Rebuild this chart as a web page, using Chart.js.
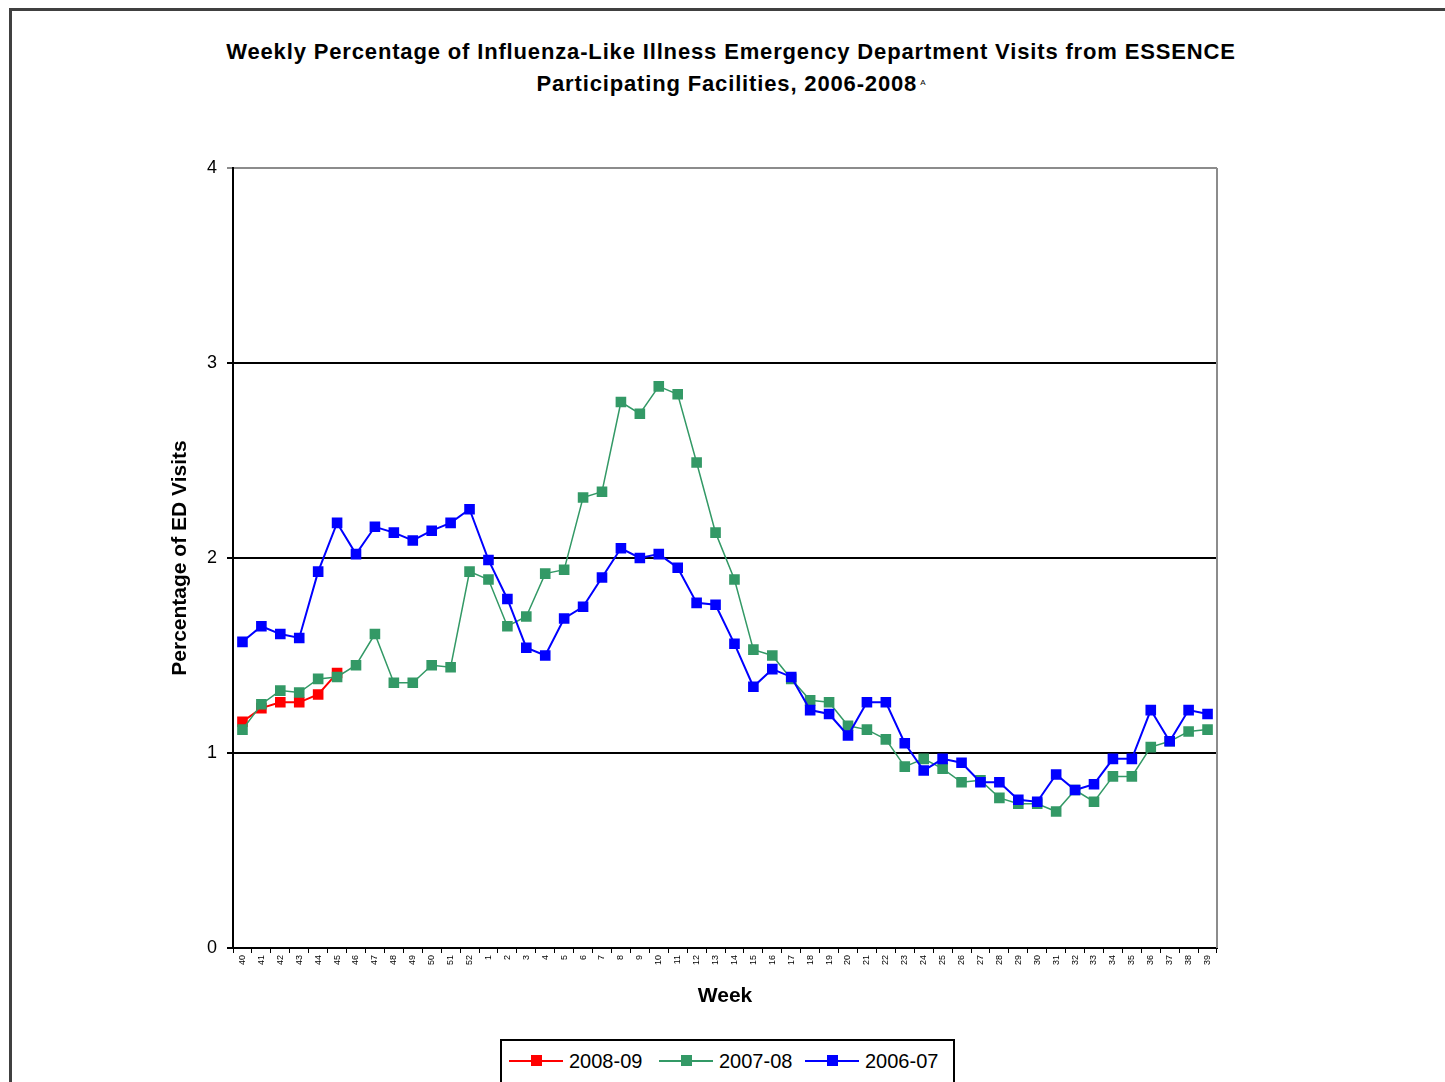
<!DOCTYPE html>
<html>
<head>
<meta charset="utf-8">
<script src="https://cdn.jsdelivr.net/npm/chart.js@4"></script>
<style>
    body { margin: 0; width: 1445px; height: 1082px; overflow: hidden; background: #fff; font-family: "Liberation Sans", Arial, sans-serif; }
    #frame { position: absolute; left: 9px; top: 8px; width: 2000px; height: 2000px; border: 3px solid #404040; }
    #title { position: absolute; left: 81px; width: 1300px; top: 36px; text-align: center; font-weight: bold; font-size: 22px; line-height: 32px; color: #000; letter-spacing: 0.85px; }
    #title sup { font-size: 8px; font-weight: normal; line-height: 0; position: relative; top: -6px; vertical-align: baseline; margin-left: 3px; letter-spacing: 0; }
    #chartBox { position: absolute; left: 0; top: 0; }
    #legend { position: absolute; left: 500px; top: 1039px; width: 451px; height: 60px; border: 2px solid #000; background: #fff; }
    .item { position: absolute; top: 9px; font-size: 20px; line-height: 22px; color: #000; white-space: nowrap; }
    .sample { display: inline-block; position: relative; width: 54px; height: 22px; vertical-align: top; margin-right: 6px; }
    .sample .ln { position: absolute; left: 0; right: 0; top: 10px; height: 2px; }
    .sample .mk { position: absolute; left: 22px; top: 5px; width: 11px; height: 11px; }
</style>
</head>
<body>
<div id="frame"></div>
<div id="title">Weekly Percentage of Influenza-Like Illness Emergency Department Visits from ESSENCE<br>Participating Facilities, 2006-2008<sup>A</sup></div>
<div id="chartBox"><canvas id="iliChart" width="1445" height="1082"></canvas></div>
<div id="legend"></div>

<script>
const weeks = ['40', '41', '42', '43', '44', '45', '46', '47', '48', '49', '50', '51', '52',
    '1', '2', '3', '4', '5', '6', '7', '8', '9', '10', '11', '12', '13', '14', '15', '16', '17', '18', '19', '20',
    '21', '22', '23', '24', '25', '26', '27', '28', '29', '30', '31', '32', '33', '34', '35', '36', '37', '38', '39'];

const season0809 = [1.16, 1.23, 1.26, 1.26, 1.30, 1.41];

const season0708 = [1.12, 1.25, 1.32, 1.31, 1.38, 1.39, 1.45, 1.61, 1.36, 1.36, 1.45, 1.44, 1.93,
    1.89, 1.65, 1.70, 1.92, 1.94, 2.31, 2.34, 2.80, 2.74, 2.88, 2.84, 2.49, 2.13, 1.89, 1.53, 1.50, 1.38,
    1.27, 1.26, 1.14, 1.12, 1.07, 0.93, 0.97, 0.92, 0.85, 0.86, 0.77, 0.74, 0.74, 0.70, 0.81, 0.75,
    0.88, 0.88, 1.03, 1.06, 1.11, 1.12];

const season0607 = [1.57, 1.65, 1.61, 1.59, 1.93, 2.18, 2.02, 2.16, 2.13, 2.09, 2.14, 2.18, 2.25,
    1.99, 1.79, 1.54, 1.50, 1.69, 1.75, 1.90, 2.05, 2.00, 2.02, 1.95, 1.77, 1.76, 1.56, 1.34, 1.43, 1.39,
    1.22, 1.20, 1.09, 1.26, 1.26, 1.05, 0.91, 0.97, 0.95, 0.85, 0.85, 0.76, 0.75, 0.89, 0.81, 0.84,
    0.97, 0.97, 1.22, 1.06, 1.22, 1.20];

const yTicks = [0, 1, 2, 3, 4];

const seriesLabels = ['2008-09', '2007-08', '2006-07'];
const seriesColors = ['#ff0000', '#339966', '#0000ff'];
const seriesData = [season0809, season0708, season0607];

// excel draws later series on top, so the blue one goes last
const datasets = seriesData.map((values, index) => ({
    label: seriesLabels[index],
    data: values,
    borderColor: seriesColors[index],
    backgroundColor: seriesColors[index],
    borderWidth: index === 1 ? 1.5 : 2,
    pointStyle: 'rect',
    pointRadius: 7.5,
    pointBorderWidth: 0,
    tension: 0,
    order: 3 - index
}));

// right side of the plot box is grey like the top line
const plotBorder = {
    id: 'plotBorder',
    afterDraw(chart) {
        const { ctx, chartArea } = chart;
        ctx.save();
        ctx.strokeStyle = '#8c8c8c';
        ctx.lineWidth = 2;
        ctx.beginPath();
        ctx.moveTo(chartArea.right, chartArea.top);
        ctx.lineTo(chartArea.right, chartArea.bottom);
        ctx.stroke();
        ctx.restore();
    }
};

const ctx = document.getElementById('iliChart').getContext('2d');

const iliChart = new Chart(ctx, {
    type: 'line',
    data: {
        labels: weeks,
        datasets: datasets
    },
    options: {
        responsive: false,
        animation: false,
        layout: {
            padding: { left: 160, right: 228, top: 168, bottom: 64 }
        },
        plugins: {
            legend: { display: false },
            title: { display: false },
            tooltip: { enabled: false }
        },
        scales: {
            x: {
                offset: true,
                afterFit: function (scale) { scale.height = 70; },
                grid: {
                    offset: true,
                    drawOnChartArea: false,
                    tickLength: 5,
                    color: '#000',
                    lineWidth: 1
                },
                border: { color: '#000', width: 2 },
                ticks: {
                    autoSkip: false,
                    minRotation: 90,
                    maxRotation: 90,
                    padding: 2,
                    color: '#000',
                    font: { family: 'Liberation Sans', size: 9 }
                },
                title: {
                    display: true,
                    text: 'Week',
                    color: '#000',
                    padding: { top: 0, bottom: 9 },
                    font: { family: 'Liberation Sans', size: 21, weight: 'bold' }
                }
            },
            y: {
                min: 0,
                max: 4,
                afterFit: function (scale) { scale.width = 73; },
                afterBuildTicks: function (scale) {
                    scale.ticks = yTicks.map(v => ({ value: v }));
                },
                grid: {
                    color: function (context) {
                        return context.tick && context.tick.value === 4 ? '#8c8c8c' : '#000';
                    },
                    lineWidth: 2,
                    tickLength: 6
                },
                border: { color: '#000', width: 2 },
                ticks: {
                    padding: 10,
                    color: '#000',
                    font: { family: 'Liberation Sans', size: 18 }
                },
                title: {
                    display: true,
                    text: 'Percentage of ED Visits',
                    color: '#000',
                    padding: { top: 8, bottom: 0 },
                    font: { family: 'Liberation Sans', size: 21, weight: 'bold' }
                }
            }
        }
    },
    plugins: [plotBorder]
});

// legend box like the excel one, built from the chart's own datasets
const legendPositions = [7, 157, 303];
const legendEl = document.getElementById('legend');
seriesLabels.forEach(function (label, index) {
    const item = document.createElement('div');
    item.className = 'item';
    item.style.left = legendPositions[index] + 'px';
    item.innerHTML = '<span class="sample"><span class="ln" style="background:' + seriesColors[index] + '"></span>' +
        '<span class="mk" style="background:' + seriesColors[index] + '"></span></span>' + label;
    legendEl.appendChild(item);
});
</script>
</body>
</html>
